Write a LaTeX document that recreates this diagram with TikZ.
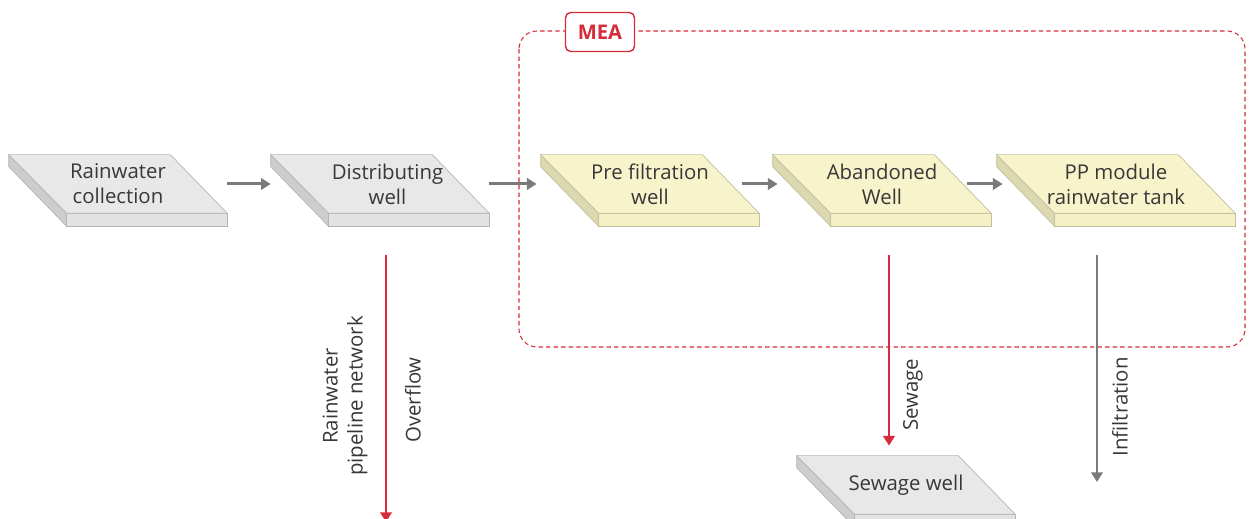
\documentclass[tikz,border=0pt]{standalone}
\usepackage{fontspec}
\setmainfont{Open Sans}
\usetikzlibrary{calc,backgrounds,arrows.meta}

\definecolor{gtop}{HTML}{E8E8E8}
\definecolor{gside}{HTML}{CDCDCD}
\definecolor{gfront}{HTML}{E2E2E2}
\definecolor{gedge}{HTML}{B5B5B5}
\definecolor{ytop}{HTML}{F7F3CB}
\definecolor{yside}{HTML}{DCD8AF}
\definecolor{yfront}{HTML}{F5F1C5}
\definecolor{yedge}{HTML}{C2BE9E}
\definecolor{txtgray}{HTML}{383838}
\definecolor{arrgray}{HTML}{7A7A7A}
\definecolor{mred}{HTML}{D62B38}

\tikzset{
  well/.style={minimum width=4.36cm, minimum height=1.16cm, inner sep=0pt,
    align=center, text=txtgray, font=\fontsize{11.6}{14.2}\selectfont},
  flow/.style={line width=1.7pt, arrgray, -{Triangle[length=5.5pt,width=6.5pt]}},
  redflow/.style={flow, line width=1.25pt, mred},
  vlabel/.style={rotate=90, align=center, text=txtgray, font=\fontsize{11.6}{14.2}\selectfont},
  meatag/.style={draw=mred, line width=0.8pt, fill=white, rounded corners=3pt,
    minimum width=1.38cm, minimum height=0.78cm, text=mred, font=\fontsize{11.5}{13}\selectfont\bfseries},
}

% slab under a well: node name, colour prefix
\newcommand{\slab}[2]{%
  \filldraw[fill=#2side, draw=#2edge, line width=0.4pt] (#1.north west) -- ($(#1.south west)+(58,0)$) -- ++(0,13) -- ($(#1.north west)+(0,12)$) -- cycle;
  \filldraw[fill=#2front, draw=#2edge, line width=0.4pt] ($(#1.south west)+(58,0)$) rectangle ($(#1.south east)+(0,13)$);
  \filldraw[fill=#2top, draw=#2edge, line width=0.4pt] (#1.north west) -- ($(#1.north east)+(-57,0)$) -- (#1.south east) -- ($(#1.south west)+(58,0)$) -- cycle;
}

\begin{document}
\begin{tikzpicture}[x=0.02cm, y=-0.02cm]
    \useasboundingbox (0,0) rectangle (1249,519);

    % MEA frame
    \draw[mred, line width=0.6pt, dash pattern=on 2.5pt off 1.8pt, rounded corners=0.36cm] (519,31) rectangle (1245,347);
    \node[meatag] (mea) at (600,32) {MEA};

    % wells
    \node[well] (rc) at (118,184) {Rainwater\\collection};
    \node[well] (dw) at (380,184) {\hspace*{0.3cm}Distributing\\\hspace*{0.3cm}well};
    \node[well] (pf) at (650,184) {Pre filtration\\well};
    \node[well] (aw) at (882,184) {Abandoned\\Well};
    \node[well, minimum width=4.76cm] (pp) at (1116,184) {PP module\\rainwater tank};
    \node[well] (sw) at (906,485) {Sewage well};

    \begin{scope}[on background layer]
        \slab{rc}{g}
        \slab{dw}{g}
        \slab{pf}{y}
        \slab{aw}{y}
        \slab{pp}{y}
        \slab{sw}{g}
    \end{scope}

    % flows along the top
    \draw[flow] (rc.east) -- (dw.west);
    \draw[flow, shorten >=2.3pt] (dw.east) -- (pf.west);
    \draw[flow, shorten <=-10pt, shorten >=-2.8pt] (pf.east) -- (aw.west);
    \draw[flow, shorten <=-14pt, shorten >=-3.4pt] (aw.east) -- (pp.west);

    % flows going down
    \coordinate (ovf) at (386,522);
    \coordinate (inf) at (1097,482);
    \coordinate (sw0) at ($(aw.south)+(7,42)$);
    \draw[redflow] ($(dw.south)+(6,42)$) -- (ovf);
    \draw[redflow, shorten >=5.7pt] (sw0) -- (sw0 |- sw.north);
    \draw[flow] ($(pp.south)+(-19,42)$) -- (inf);

    \node[vlabel] (rpn) at (345,396) {Rainwater\\pipeline network};
    \node[vlabel] (ovl) at (413,400) {Overflow};
    \node[vlabel] (sgl) at (913,395) {Sewage};
    \node[vlabel] (inl) at (1120,407) {Infiltration};
\end{tikzpicture}
\end{document}
